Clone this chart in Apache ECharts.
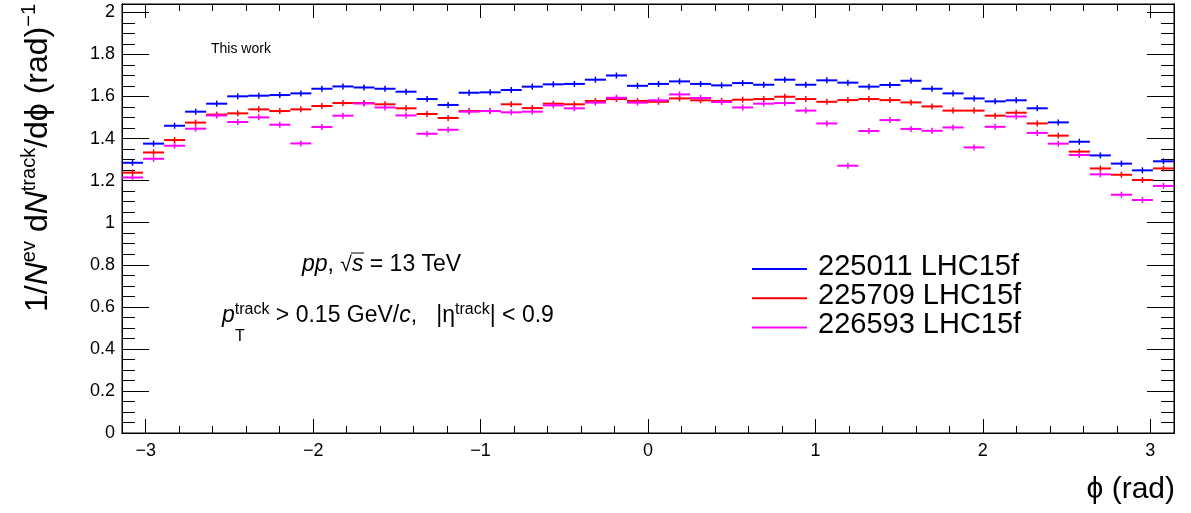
<!DOCTYPE html>
<html><head><meta charset="utf-8">
<script src="https://cdn.jsdelivr.net/npm/echarts@6/dist/echarts.min.js"></script>
<style>html,body{margin:0;padding:0;background:#fff}#c{width:1191px;height:513px}</style>
</head><body><div id="c"></div>
<script>
// ---------- data ----------
const NBINS = 50;
const PHI_MIN = -Math.PI, PHI_MAX = Math.PI;
const Y_MIN = 0, Y_MAX = 2.04;
const xTickValues = [-3, -2, -1, 0, 1, 2, 3];
const xTickLabels = ['\u22123', '\u22122', '\u22121', '0', '1', '2', '3'];
const yTickValues = [0, 0.2, 0.4, 0.6, 0.8, 1, 1.2, 1.4, 1.6, 1.8, 2];
const yTickLabels = ['0', '0.2', '0.4', '0.6', '0.8', '1', '1.2', '1.4', '1.6', '1.8', '2'];
const seriesNames = ['225011 LHC15f', '225709 LHC15f', '226593 LHC15f'];
const run225011 = [1.285,1.376,1.461,1.528,1.566,1.601,1.604,1.607,1.615,1.637,
 1.648,1.643,1.637,1.623,1.588,1.560,1.618,1.620,1.631,1.647,
 1.658,1.660,1.680,1.700,1.651,1.660,1.672,1.660,1.653,1.664,
 1.656,1.680,1.656,1.677,1.666,1.647,1.655,1.675,1.637,1.615,
 1.591,1.577,1.582,1.544,1.477,1.385,1.320,1.281,1.249,1.292];
const run225709 = [1.238,1.334,1.393,1.476,1.514,1.520,1.539,1.531,1.539,1.555,
 1.569,1.569,1.563,1.544,1.517,1.498,1.531,1.531,1.563,1.545,
 1.566,1.563,1.579,1.588,1.579,1.575,1.591,1.582,1.579,1.585,
 1.588,1.599,1.588,1.575,1.583,1.588,1.583,1.572,1.553,1.533,
 1.533,1.509,1.523,1.472,1.414,1.338,1.258,1.228,1.203,1.258];
const run226593 = [1.215,1.304,1.366,1.447,1.510,1.479,1.501,1.466,1.377,1.455,
 1.509,1.567,1.548,1.510,1.423,1.442,1.528,1.531,1.525,1.528,
 1.558,1.544,1.571,1.594,1.571,1.582,1.610,1.593,1.574,1.548,
 1.566,1.569,1.533,1.472,1.271,1.436,1.488,1.446,1.437,1.453,
 1.358,1.456,1.505,1.427,1.376,1.322,1.230,1.133,1.108,1.175];
const seriesColors = ['#0000ff', '#ff0000', '#ff00ff'];

// ---------- derived ----------
const BIN_W = (PHI_MAX - PHI_MIN) / NBINS;
const binCenters = Array.from({length: NBINS}, (_, i) => PHI_MIN + (i + 0.5) * BIN_W);
const xMinorTicks = [];
for (let k = -15; k <= 15; k++) if (k % 5 !== 0) xMinorTicks.push(+(k * 0.2).toFixed(2));
const yMinorTicks = [];
for (let k = 0; k <= 40; k++) if (k % 4 !== 0) yMinorTicks.push(+(k * 0.05).toFixed(2));

const FONT = 'Liberation Sans';

function xAx(pos, ticks, len, withLabels) {
  return {
    type: 'value', min: PHI_MIN, max: PHI_MAX, position: pos, gridIndex: 0,
    axisLine: {show: true, onZero: false, lineStyle: {color: '#000', width: 1}},
    axisTick: {show: true, inside: true, length: len, customValues: ticks, lineStyle: {color: '#000', width: 1}},
    axisLabel: withLabels ? {
      show: true, customValues: xTickValues, margin: 9, fontSize: 18, fontFamily: FONT, color: '#000',
      formatter: v => { const i = xTickValues.findIndex(t => Math.abs(t - v) < 1e-6); return i >= 0 ? xTickLabels[i] : ''; }
    } : {show: false},
    splitLine: {show: false}, minorTick: {show: false}, minorSplitLine: {show: false}
  };
}
function yAx(pos, ticks, len, withLabels) {
  return {
    type: 'value', min: Y_MIN, max: Y_MAX, position: pos, gridIndex: 0,
    axisLine: {show: true, onZero: false, lineStyle: {color: '#000', width: 1}},
    axisTick: {show: true, inside: true, length: len, customValues: ticks, lineStyle: {color: '#000', width: 1}},
    axisLabel: withLabels ? {
      show: true, customValues: yTickValues, margin: 7, fontSize: 18, fontFamily: FONT, color: '#000',
      formatter: v => { const i = yTickValues.findIndex(t => Math.abs(t - v) < 1e-6); return i >= 0 ? yTickLabels[i] : ''; }
    } : {show: false},
    splitLine: {show: false}, minorTick: {show: false}, minorSplitLine: {show: false}
  };
}

function binRenderer(color) {
  return function (params, api) {
    const x = api.value(0), y = api.value(1);
    const p0 = api.coord([x - BIN_W / 2, y]);
    const p1 = api.coord([x + BIN_W / 2, y]);
    const pc = api.coord([x, y]);
    return {type: 'group', children: [
      {type: 'line', shape: {x1: p0[0], y1: p0[1], x2: p1[0], y2: p1[1]}, style: {stroke: color, lineWidth: 2}},
      {type: 'line', shape: {x1: pc[0], y1: pc[1] - 3, x2: pc[0], y2: pc[1] + 3}, style: {stroke: color, lineWidth: 1.5}}
    ]};
  };
}

const allRuns = [run225011, run225709, run226593];
const series = allRuns.map((vals, s) => ({
  type: 'custom', name: seriesNames[s], xAxisIndex: 0, yAxisIndex: 0,
  renderItem: binRenderer(seriesColors[s]),
  data: vals.map((v, i) => [binCenters[i], v]),
  z: 2 + s
}));

const legendGraphics = [];
seriesNames.forEach((name, s) => {
  const y = 269 + s * 29.2;
  legendGraphics.push({type: 'line', shape: {x1: 752, y1: y, x2: 807, y2: y}, style: {stroke: seriesColors[s], lineWidth: 2}});
  legendGraphics.push({type: 'text', x: 818, y: y - 2, style: {text: name, fontSize: 29, fontFamily: FONT, fill: '#000', align: 'left', verticalAlign: 'middle'}});
});

const mainR = (fs, it) => ({fontSize: fs, fontFamily: FONT, fill: '#000', fontStyle: it ? 'italic' : 'normal', lineHeight: fs + 6});

const option = {
  animation: false,
  backgroundColor: '#fff',
  grid: {left: 122, right: 17, top: 4, bottom: 80, show: true, borderColor: '#000', borderWidth: 1, containLabel: false},
  xAxis: [xAx('bottom', xTickValues, 14, true), xAx('bottom', xMinorTicks, 7, false),
          xAx('top', xTickValues, 14, false), xAx('top', xMinorTicks, 7, false)],
  yAxis: [yAx('left', yTickValues, 27, true), yAx('left', yMinorTicks, 13, false),
          yAx('right', yTickValues, 27, false), yAx('right', yMinorTicks, 13, false)],
  series: series,
  graphic: [
    // y axis title
    {type: 'text', x: 38, y: 4, rotation: Math.PI / 2,
     style: {text: '{n|1/}{i|N}{s|ev}{n| d}{i|N}{s|track}{n|/d\u03d5 (rad)}{s|\u22121}',
       align: 'right', verticalAlign: 'middle',
       rich: {n: mainR(32, false), i: mainR(32, true),
              s: {fontSize: 20, fontFamily: FONT, fill: '#000', verticalAlign: 'top', lineHeight: 21}}}},
    // x axis title
    {type: 'text', x: 1175, y: 490, style: {text: '\u03d5 (rad)', fontSize: 30, fontFamily: FONT, fill: '#000', align: 'right', verticalAlign: 'middle'}},
    {type: 'text', x: 211, y: 49, style: {text: 'This work', fontSize: 14, fontFamily: FONT, fill: '#000', align: 'left', verticalAlign: 'middle'}},
    // pp, sqrt(s)
    {type: 'text', x: 302, y: 265,
     style: {text: '{i|pp}{n|, }{r|\u221a}{i|s}{n| = 13 TeV}', align: 'left', verticalAlign: 'middle',
       rich: {n: mainR(23, false), i: mainR(23, true), r: mainR(21, false)}}},
    {type: 'line', shape: {x1: 351, y1: 253, x2: 364, y2: 253}, style: {stroke: '#000', lineWidth: 1}},
    // pT line
    {type: 'text', x: 222, y: 316,
     style: {text: '{i|p}{s|track}{n| > 0.15 GeV/}{i|c}{n|,   |\u03b7}{s|track}{n|| < 0.9}', align: 'left', verticalAlign: 'middle',
       rich: {n: mainR(23, false), i: mainR(23, true),
              s: {fontSize: 16, fontFamily: FONT, fill: '#000', verticalAlign: 'top', lineHeight: 17}}}},
    {type: 'text', x: 235, y: 337, style: {text: 'T', fontSize: 16, fontFamily: FONT, fill: '#000', align: 'left', verticalAlign: 'middle'}}
  ].concat(legendGraphics)
};

const chart = echarts.init(document.getElementById('c'), null, {renderer: 'canvas'});
chart.setOption(option);
</script>
</body></html>
